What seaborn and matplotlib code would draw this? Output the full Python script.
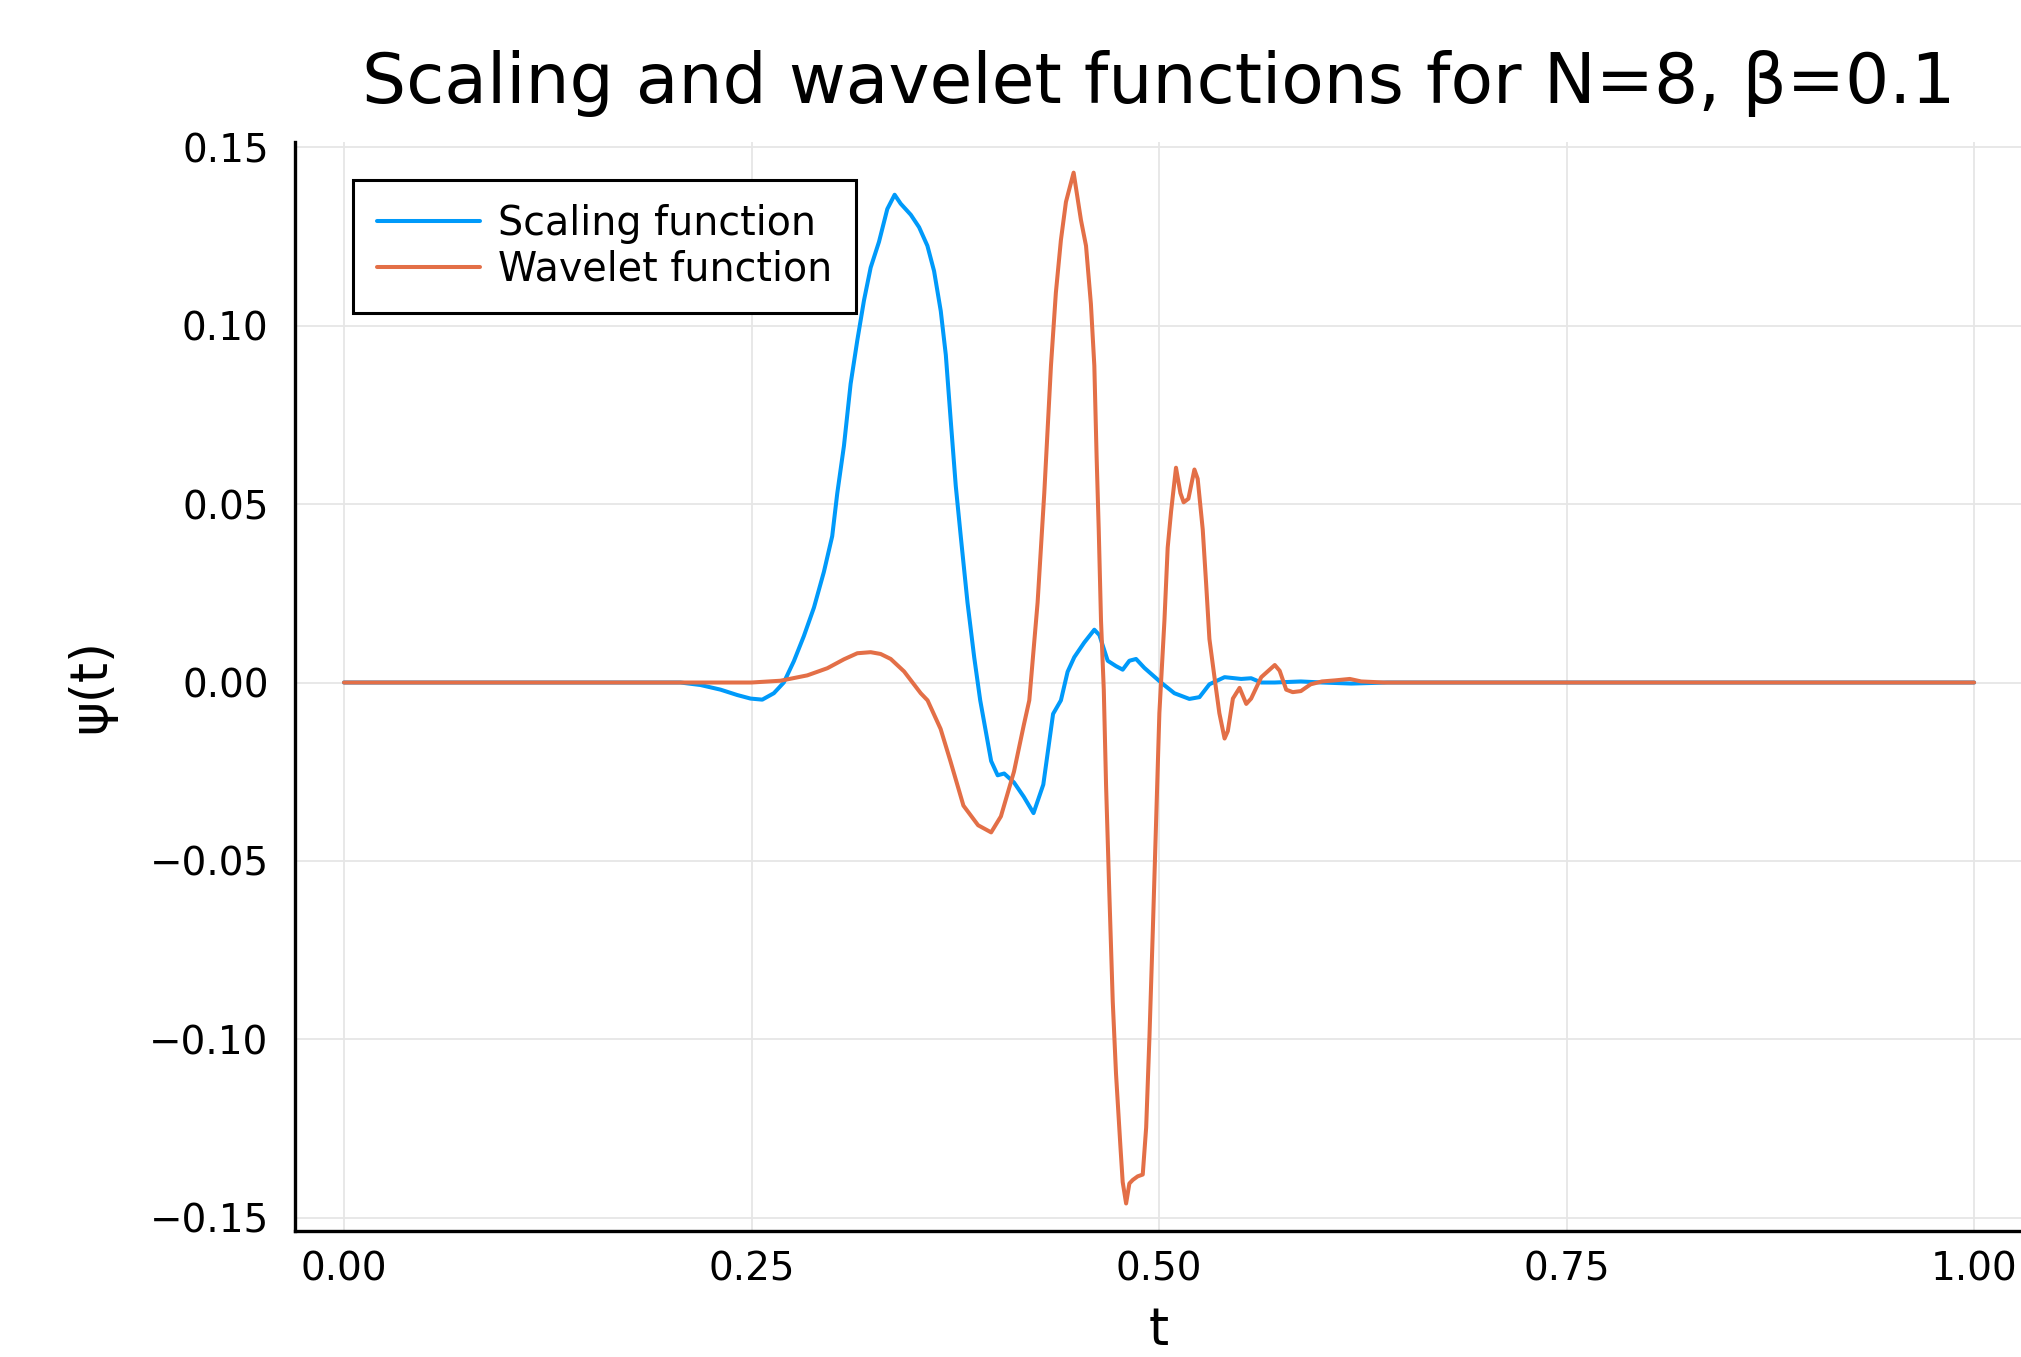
import numpy as np
import pandas as pd
import matplotlib
matplotlib.use('Agg')
import matplotlib.pyplot as plt
from matplotlib.ticker import FuncFormatter
import seaborn as sns

# values
scaling_t = [0.0, 0.18, 0.2064, 0.2187, 0.2310, 0.2412, 0.2494, 0.2566, 0.2637, 0.2698,
             0.2760, 0.2821, 0.2883, 0.2944, 0.2995, 0.3026, 0.3067, 0.3108, 0.3149, 0.3190,
             0.3231, 0.3282, 0.3333, 0.3378, 0.3415, 0.3477, 0.3528, 0.3579, 0.3620, 0.3661,
             0.3692, 0.3722, 0.3753, 0.3784, 0.3825, 0.3866, 0.3903, 0.397, 0.401, 0.405,
             0.411, 0.417, 0.423, 0.429, 0.435, 0.4398, 0.4439, 0.448, 0.4541, 0.4603,
             0.4634, 0.4685, 0.4736, 0.4777, 0.4818, 0.4859, 0.4910, 0.5012, 0.5094, 0.5186,
             0.5248, 0.5309, 0.5402, 0.5504, 0.5565, 0.5627, 0.571, 0.587, 0.600, 0.618,
             0.64, 1.0]
scaling_vals = [0.0, 0.0, 0.0, -0.0007, -0.0020, -0.0035, -0.0045, -0.0048, -0.0030, 0.0,
                0.006, 0.013, 0.021, 0.031, 0.041, 0.053, 0.0663, 0.0837, 0.0959, 0.1071,
                0.1163, 0.1235, 0.1327, 0.1367, 0.1342, 0.1311, 0.1276, 0.1224, 0.1153, 0.1041,
                0.0918, 0.0735, 0.0551, 0.0408, 0.0224, 0.0071, -0.005, -0.022, -0.026, -0.0255,
                -0.028, -0.032, -0.0366, -0.0286, -0.0088, -0.005, 0.003, 0.0071, 0.0112, 0.0148,
                0.0133, 0.0061, 0.0046, 0.0036, 0.0061, 0.0066, 0.0041, 0.0, -0.003, -0.0046,
                -0.0041, -0.0005, 0.0015, 0.001, 0.0012, 0.0, 0.0, 0.0003, 0.0, -0.0003,
                0.0, 0.0]

wavelet_t = [0.0, 0.25, 0.2678, 0.2842, 0.2965, 0.3067, 0.3149, 0.3231, 0.3292, 0.3354,
             0.3436, 0.3538, 0.358, 0.366, 0.372, 0.380, 0.389, 0.397, 0.403, 0.411,
             0.417, 0.4204, 0.4255, 0.4296, 0.4337, 0.4367, 0.4398, 0.4429, 0.4476, 0.4521,
             0.4552, 0.4582, 0.4603, 0.4617, 0.4630, 0.4644, 0.4661, 0.4675, 0.4695, 0.4716,
             0.4736, 0.4763, 0.4777, 0.4798, 0.4818, 0.4839, 0.4869, 0.4900, 0.4921, 0.4941,
             0.4962, 0.4982, 0.5002, 0.5033, 0.5053, 0.5074, 0.5104, 0.5131, 0.5151, 0.5180,
             0.5217, 0.5237, 0.5268, 0.5289, 0.5309, 0.5340, 0.537, 0.5402, 0.5422, 0.5453,
             0.5494, 0.5535, 0.5565, 0.5627, 0.571, 0.574, 0.578, 0.582, 0.587, 0.593,
             0.600, 0.608, 0.617, 0.624, 0.638, 1.0]
wavelet_vals = [0.0, 0.0, 0.0005, 0.002, 0.004, 0.0065, 0.0082, 0.0085, 0.008, 0.0066,
                0.0031, -0.003, -0.005, -0.013, -0.022, -0.0345, -0.040, -0.042, -0.0375, -0.025,
                -0.012, -0.005, 0.0224, 0.0531, 0.0888, 0.1092, 0.1240, 0.1347, 0.1429, 0.1296,
                0.1224, 0.1061, 0.0888, 0.0633, 0.0429, 0.0173, -0.002, -0.0288, -0.059, -0.0894,
                -0.1096, -0.130, -0.140, -0.146, -0.1404, -0.1394, -0.1384, -0.1379, -0.1247, -0.0995,
                -0.0692, -0.0389, -0.0086, 0.0173, 0.0378, 0.048, 0.0602, 0.0531, 0.0505, 0.0515,
                0.0597, 0.0571, 0.0429, 0.0276, 0.0122, 0.0015, -0.0086, -0.0157, -0.0136, -0.0045,
                -0.0015, -0.006, -0.0045, 0.0015, 0.0049, 0.0033, -0.002, -0.0027, -0.0024, -0.0005,
                0.0003, 0.0006, 0.001, 0.0003, 0.0, 0.0]

x_ticks = [0.0, 0.25, 0.5, 0.75, 1.0]
y_ticks = [-0.15, -0.10, -0.05, 0.0, 0.05, 0.10, 0.15]

sns.set_theme(style='white')
plt.rcParams['font.family'] = ['DejaVu Sans']
plt.rcParams['text.color'] = 'black'
plt.rcParams['axes.labelcolor'] = 'black'

df_scaling = pd.DataFrame({'t': scaling_t, 'psi': scaling_vals})
df_wavelet = pd.DataFrame({'t': wavelet_t, 'psi': wavelet_vals})

fig = plt.figure(figsize=(20.21, 13.57), dpi=100)
ax = fig.add_axes([0.146, 0.0929, 0.855, 0.8025])

sns.lineplot(data=df_scaling, x='t', y='psi', ax=ax, color='#009AFA', linewidth=2.9,
             label='Scaling function', sort=False, estimator=None)
sns.lineplot(data=df_wavelet, x='t', y='psi', ax=ax, color='#E36F47', linewidth=2.9,
             label='Wavelet function', sort=False, estimator=None)

ax.set_xlim(-0.03, 1.03)
ax.set_ylim(-0.1537, 0.1515)
ax.set_xticks(x_ticks)
ax.set_yticks(y_ticks)
fmt = FuncFormatter(lambda v, p: '{:.2f}'.format(v).replace('-', '\u2212'))
ax.xaxis.set_major_formatter(fmt)
ax.yaxis.set_major_formatter(fmt)

ax.grid(True, color='#e6e6e6', linewidth=1.3)
for side in ['top', 'right']:
    ax.spines[side].set_visible(False)
for side in ['left', 'bottom']:
    ax.spines[side].set_color('black')
    ax.spines[side].set_linewidth(2.4)

ax.tick_params(axis='both', direction='in', length=11, width=2, colors='black',
               labelsize=28, labelcolor='black')
ax.tick_params(axis='x', pad=14)
ax.tick_params(axis='y', pad=19)

ax.set_xlabel('t', fontsize=37, labelpad=13)
ax.set_ylabel('\u03c8(t)', fontsize=37, labelpad=24)
ax.set_title('Scaling and wavelet functions for N=8, \u03b2=0.1', fontsize=50, pad=28,
             color='black')

leg = ax.legend(loc='upper left', bbox_to_anchor=(0.0336, 0.965), borderaxespad=0,
                fontsize=28.5, frameon=True, fancybox=False, framealpha=1,
                handlelength=2.6, handletextpad=0.45, labelspacing=0.15, borderpad=0.6)
leg.get_frame().set_edgecolor('black')
leg.get_frame().set_linewidth(2.2)
for txt in leg.get_texts():
    txt.set_color('black')

fig.savefig('out.png', dpi=100)
